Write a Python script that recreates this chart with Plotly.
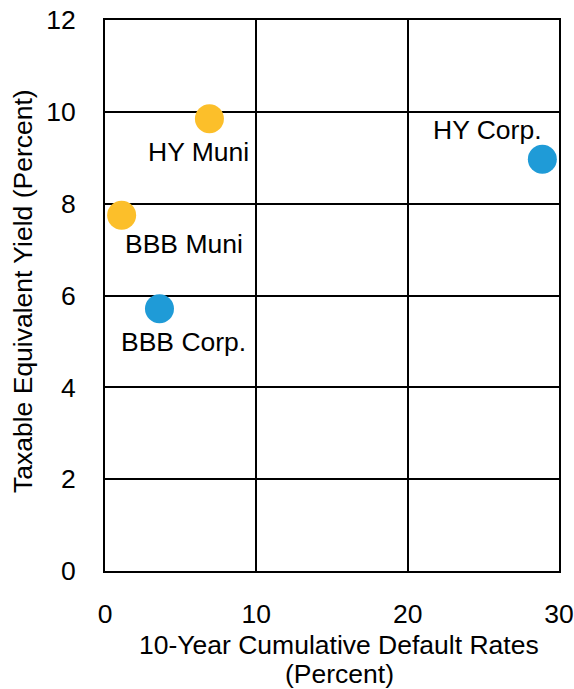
import plotly.graph_objects as go

# Bond categories: 10-year cumulative default rate vs. taxable equivalent yield
muni_names = ["HY Muni", "BBB Muni"]
muni_default = [6.9, 1.1]
muni_yield = [9.85, 7.75]

corp_names = ["HY Corp.", "BBB Corp."]
corp_default = [28.9, 3.6]
corp_yield = [8.97, 5.71]

x_ticks = [0, 10, 20, 30]
y_ticks = [0, 2, 4, 6, 8, 10, 12]

ORANGE = "#FCBF2A"
BLUE = "#1F9BD7"
FONT = "Liberation Sans, Arial, sans-serif"
FS = 26.5

fig = go.Figure()
fig.add_trace(go.Scatter(
    x=muni_default, y=muni_yield, mode="markers",
    marker=dict(size=29, color=ORANGE, line=dict(width=0)),
    showlegend=False, cliponaxis=False,
))
fig.add_trace(go.Scatter(
    x=corp_default, y=corp_yield, mode="markers",
    marker=dict(size=29, color=BLUE, line=dict(width=0)),
    showlegend=False, cliponaxis=False,
))

# Point labels, offset in pixels from each marker
label_offsets = {
    "HY Muni": (-11, 33),
    "BBB Muni": (62, 29),
    "BBB Corp.": (24, 33),
    "HY Corp.": (-55, -29),
}
for names, xs, ys in ((muni_names, muni_default, muni_yield),
                      (corp_names, corp_default, corp_yield)):
    for n, x, y in zip(names, xs, ys):
        dx, dy = label_offsets[n]
        fig.add_annotation(
            x=x, y=y, text=n, showarrow=True, arrowcolor="rgba(0,0,0,0)",
            ax=dx, ay=dy, font=dict(size=FS, color="black", family=FONT),
        )

axis_common = dict(
    showgrid=True, gridcolor="black", gridwidth=2,
    showline=True, linecolor="black", linewidth=2, mirror=True,
    zeroline=False, ticks="outside", tickcolor="rgba(0,0,0,0)",
    tickfont=dict(size=FS, color="black", family=FONT), automargin=False,
)
fig.update_xaxes(range=[0, 30], tickvals=x_ticks, ticklen=18, **axis_common)
fig.update_yaxes(range=[0, 12], tickvals=y_ticks, ticklen=22, **axis_common)

# x-axis title, two lines
for line, ypix in (("10-Year Cumulative Default Rates", 645),
                   ("(Percent)", 674)):
    fig.add_annotation(
        xref="paper", yref="paper", x=(339 - 105) / 454, y=(571 - ypix) / 551,
        xanchor="center", yanchor="middle", text=line, showarrow=False,
        font=dict(size=FS, color="black", family=FONT),
    )
fig.add_annotation(
    xref="paper", yref="paper", x=(23 - 105) / 454, y=(571 - 291) / 551,
    xanchor="center", yanchor="middle",
    text="Taxable Equivalent Yield (Percent)", showarrow=False, textangle=-90,
    font=dict(size=FS, color="black", family=FONT),
)

fig.update_layout(
    width=574, height=689,
    margin=dict(l=105, r=15, t=20, b=118),
    plot_bgcolor="white", paper_bgcolor="white",
    font=dict(family=FONT, color="black"),
)

fig.write_html("out.html")
